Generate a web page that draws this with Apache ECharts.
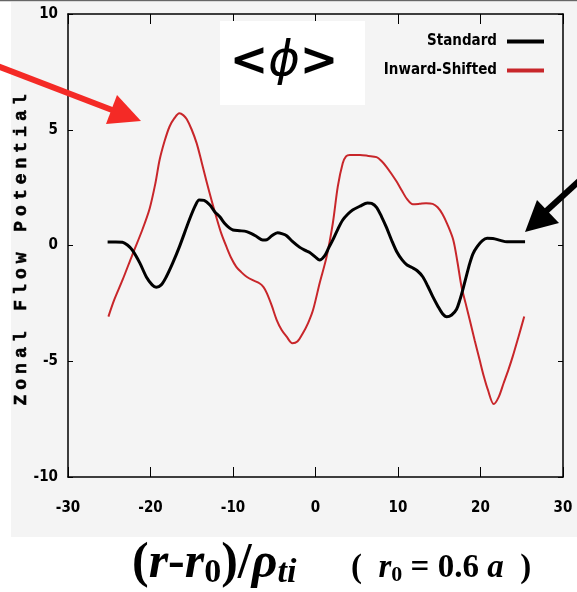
<!DOCTYPE html>
<html>
<head>
<meta charset="utf-8">
<script src="https://cdn.jsdelivr.net/npm/echarts@6/dist/echarts.min.js"></script>
<style>
  html, body { margin: 0; padding: 0; background: #ffffff; }
  #chart { width: 577px; height: 592px; }
</style>
</head>
<body>
<div id="chart"></div>
<script>
// Axis ranges and tick spacing
const xRange = [-30, 30];
const xStep = 10;
const yRange = [-10, 10];
const yStep = 5;

// Series names
const seriesNames = ['Standard', 'Inward-Shifted'];

// Zonal flow potential, standard configuration: [(r-r0)/rho_ti, <phi>]
const standard = [
  [-25.2, 0.15], [-24.2, 0.15], [-23.4, 0.14], [-22.8, 0.02], [-22.2, -0.2],
  [-21.3, -0.75], [-20.5, -1.36], [-19.8, -1.7], [-19.3, -1.8], [-18.7, -1.7],
  [-18.1, -1.36], [-17.3, -0.75], [-16.5, -0.06], [-15.3, 1.1], [-14.6, 1.7],
  [-14.1, 1.97], [-13.5, 1.95], [-12.8, 1.75], [-12.2, 1.45], [-11.6, 1.24],
  [-11.0, 0.95], [-10.4, 0.75], [-10.0, 0.67], [-9.2, 0.64], [-8.35, 0.6],
  [-7.7, 0.5], [-7.1, 0.38], [-6.4, 0.24], [-5.9, 0.25], [-5.3, 0.42],
  [-4.6, 0.55], [-4.0, 0.5], [-3.5, 0.42], [-2.8, 0.18], [-1.9, -0.08],
  [-1.3, -0.2], [-0.7, -0.3], [0.0, -0.5], [0.5, -0.63], [1.1, -0.45],
  [1.6, -0.1], [2.1, 0.24], [2.7, 0.7], [3.3, 1.1], [3.9, 1.35],
  [4.5, 1.53], [5.4, 1.7], [6.3, 1.84], [6.8, 1.82], [7.4, 1.65],
  [8.0, 1.25], [8.6, 0.78], [9.2, 0.25], [9.85, -0.27], [10.5, -0.62],
  [11.1, -0.84], [11.7, -0.95], [12.3, -1.08], [13.0, -1.35], [13.6, -1.75],
  [14.2, -2.2], [14.8, -2.6], [15.4, -2.95], [15.9, -3.08], [16.5, -3.0],
  [17.1, -2.75], [17.5, -2.35], [17.9, -1.85], [18.3, -1.3], [18.7, -0.77],
  [19.1, -0.35], [19.6, -0.05], [20.2, 0.2], [20.8, 0.31], [21.5, 0.3],
  [22.4, 0.22], [23.2, 0.16], [24.2, 0.16], [25.4, 0.16]
];

// Zonal flow potential, inward-shifted configuration
const inwardShifted = [
  [-25.1, -3.07], [-24.4, -2.35], [-23.4, -1.5], [-22.2, -0.4], [-21.0, 0.67],
  [-20.1, 1.6], [-19.4, 2.7], [-18.9, 3.69], [-18.3, 4.5], [-17.7, 5.13],
  [-17.1, 5.5], [-16.5, 5.71], [-16.0, 5.62], [-15.6, 5.45], [-15.0, 5.0],
  [-14.4, 4.41], [-13.8, 3.6], [-13.2, 2.75], [-12.6, 1.95], [-12.0, 1.2],
  [-11.4, 0.5], [-10.8, -0.05], [-10.2, -0.55], [-9.6, -0.92], [-9.0, -1.15],
  [-8.35, -1.35], [-7.6, -1.5], [-6.8, -1.63], [-6.3, -1.8], [-5.9, -2.06],
  [-5.3, -2.6], [-4.7, -3.22], [-4.1, -3.65], [-3.5, -3.94], [-2.8, -4.22],
  [-2.2, -4.15], [-1.55, -3.8], [-0.9, -3.35], [-0.3, -2.79], [0.5, -1.63],
  [1.35, -0.48], [2.1, 0.96], [2.7, 2.54], [3.3, 3.55], [3.7, 3.85],
  [4.15, 3.91], [5.4, 3.91], [6.4, 3.87], [7.4, 3.82], [8.0, 3.65],
  [8.6, 3.4], [9.2, 3.1], [9.85, 2.75], [10.5, 2.35], [11.1, 2.0],
  [11.8, 1.78], [12.6, 1.8], [13.4, 1.83], [14.2, 1.8], [14.8, 1.65],
  [15.4, 1.35], [16.0, 0.9], [16.7, 0.24], [17.2, -0.7], [17.7, -1.78],
  [18.2, -2.5], [18.7, -3.22], [19.3, -4.1], [19.9, -4.95], [20.4, -5.65],
  [20.9, -6.24], [21.6, -6.85], [22.2, -6.55], [22.8, -5.95], [23.4, -5.35],
  [23.9, -4.8], [24.6, -3.95], [25.3, -3.07]
];

const yTitle = 'Zonal Flow Potential';

const narrowFont = '"DejaVu Sans Condensed", "Liberation Sans Narrow", "DejaVu Sans", sans-serif';

const tickFont = {
  color: '#000',
  fontFamily: narrowFont,
  fontWeight: 'bold',
  fontSize: 15
};

const chart = echarts.init(document.getElementById('chart'), null, { renderer: 'canvas' });

// Vertical axis title, spaced out one character at a time
const titleChars = yTitle.split('').map((ch, i) => ({
  type: 'text',
  x: (i - (yTitle.length - 1) / 2) * 15.8,
  y: 0,
  style: {
    text: ch,
    fill: '#000',
    fontFamily: '"Liberation Mono", "DejaVu Sans Mono", monospace',
    fontWeight: 'bold',
    fontSize: 18,
    stroke: '#000',
    lineWidth: 0.6,
    align: 'center',
    verticalAlign: 'middle'
  }
}));

const option = {
  backgroundColor: '#ffffff',
  animation: false,
  grid: { left: 68, right: 14, top: 14, bottom: 115, containLabel: false },
  legend: {
    data: seriesNames,
    orient: 'vertical',
    right: 28,
    top: 28,
    align: 'right',
    icon: 'rect',
    itemWidth: 37,
    itemHeight: 4,
    itemGap: 12,
    textStyle: {
      color: '#000',
      fontFamily: narrowFont,
      fontWeight: 'bold',
      fontSize: 15,
      lineHeight: 17,
      padding: [0, 5, 0, 0]
    }
  },
  xAxis: [
    {
      type: 'value', position: 'bottom',
      min: xRange[0], max: xRange[1], interval: xStep,
      axisLine: { onZero: false, lineStyle: { color: '#000', width: 1.5 } },
      axisTick: { inside: true, length: 10, lineStyle: { color: '#000', width: 1 } },
      axisLabel: Object.assign({ margin: 24 }, tickFont),
      splitLine: { show: false }
    },
    {
      type: 'value', position: 'top',
      min: xRange[0], max: xRange[1], interval: xStep,
      axisLine: { onZero: false, lineStyle: { color: '#000', width: 1.5 } },
      axisTick: { inside: true, length: 10, lineStyle: { color: '#000', width: 1 } },
      axisLabel: { show: false },
      splitLine: { show: false }
    }
  ],
  yAxis: [
    {
      type: 'value', position: 'left',
      min: yRange[0], max: yRange[1], interval: yStep,
      axisLine: { show: true, onZero: false, lineStyle: { color: '#000', width: 1.5 } },
      axisTick: { show: true, inside: true, length: 5, lineStyle: { color: '#000', width: 1 } },
      axisLabel: Object.assign({ margin: 10 }, tickFont),
      splitLine: { show: false }
    },
    {
      type: 'value', position: 'right',
      min: yRange[0], max: yRange[1], interval: yStep,
      axisLine: { show: true, onZero: false, lineStyle: { color: '#000', width: 1.5 } },
      axisTick: { show: true, inside: true, length: 5, lineStyle: { color: '#000', width: 1 } },
      axisLabel: { show: false },
      splitLine: { show: false }
    }
  ],
  series: [
    {
      name: seriesNames[0],
      type: 'line',
      data: standard,
      showSymbol: false,
      smooth: 0.3,
      lineStyle: { color: '#000', width: 3 },
      itemStyle: { color: '#000' },
      z: 3
    },
    {
      name: seriesNames[1],
      type: 'line',
      data: inwardShifted,
      showSymbol: false,
      smooth: 0.3,
      lineStyle: { color: '#c8262a', width: 2 },
      itemStyle: { color: '#c8262a' },
      z: 2
    }
  ],
  graphic: [
    // grey panel behind the plot
    { type: 'rect', z: -10, silent: true,
      shape: { x: 11, y: 2, width: 566, height: 535 },
      style: { fill: '#f4f4f4' } },
    { type: 'line', z: -9, silent: true,
      shape: { x1: 0, y1: 0.5, x2: 577, y2: 0.5 },
      style: { stroke: '#666', lineWidth: 1.5 } },
    // <phi> label box
    { type: 'rect', z: 20, silent: true,
      shape: { x: 220, y: 21, width: 145, height: 84 },
      style: { fill: '#ffffff' } },
    { type: 'text', z: 21, silent: true,
      x: 284, y: 63,
      style: {
        text: '{a|<}{b|ϕ}{a|>}',
        align: 'center', verticalAlign: 'middle',
        rich: {
          a: { fontFamily: 'DejaVu Sans', fontWeight: 'bold', fontSize: 46, color: '#000' },
          b: { fontFamily: 'DejaVu Sans', fontStyle: 'italic', fontSize: 48, color: '#000' }
        }
      } },
    // red pointer arrow
    { type: 'line', z: 22, silent: true,
      shape: { x1: -4, y1: 65.5, x2: 116, y2: 111.5 },
      style: { stroke: '#f42a26', lineWidth: 6 } },
    { type: 'polygon', z: 22, silent: true,
      shape: { points: [[141, 121], [117, 95], [106, 124]] },
      style: { fill: '#f42a26' } },
    // black pointer arrow
    { type: 'line', z: 22, silent: true,
      shape: { x1: 543, y1: 214, x2: 590, y2: 171 },
      style: { stroke: '#000', lineWidth: 6 } },
    { type: 'polygon', z: 22, silent: true,
      shape: { points: [[525, 232], [537, 200], [559, 223]] },
      style: { fill: '#000' } },
    // y-axis title
    { type: 'group', x: 21, y: 250, rotation: Math.PI / 2, silent: true,
      children: titleChars },
    // x-axis title
    { type: 'text', z: 20, silent: true,
      x: 132, y: 538,
      style: {
        text: '{p|(}{i|r}{p|-}{i|r}{s|0}{p|)/}{g|ρ}{t|ti}',
        align: 'left', verticalAlign: 'top',
        rich: {
          p: { fontFamily: 'Liberation Serif', fontWeight: 'bold', fontSize: 50, lineHeight: 52, color: '#000' },
          i: { fontFamily: 'Liberation Serif', fontWeight: 'bold', fontStyle: 'italic', fontSize: 50, lineHeight: 52, color: '#000' },
          g: { fontFamily: 'Liberation Serif', fontWeight: 'bold', fontStyle: 'italic', fontSize: 50, lineHeight: 52, color: '#000' },
          s: { fontFamily: 'Liberation Serif', fontWeight: 'bold', fontSize: 34, lineHeight: 22, verticalAlign: 'bottom', color: '#000' },
          t: { fontFamily: 'Liberation Serif', fontWeight: 'bold', fontStyle: 'italic', fontSize: 34, lineHeight: 22, verticalAlign: 'bottom', color: '#000' }
        }
      } },
    { type: 'text', z: 20, silent: true,
      x: 351, y: 551,
      style: {
        text: '{p|(  }{i|r}{s|0}{p| = 0.6 }{i|a}{p|  )}',
        align: 'left', verticalAlign: 'top',
        rich: {
          p: { fontFamily: 'Liberation Serif', fontWeight: 'bold', fontSize: 33, lineHeight: 35, color: '#000' },
          i: { fontFamily: 'Liberation Serif', fontWeight: 'bold', fontStyle: 'italic', fontSize: 33, lineHeight: 35, color: '#000' },
          s: { fontFamily: 'Liberation Serif', fontWeight: 'bold', fontSize: 22, lineHeight: 14, verticalAlign: 'bottom', color: '#000' }
        }
      } }
  ]
};

chart.setOption(option);
</script>
</body>
</html>
